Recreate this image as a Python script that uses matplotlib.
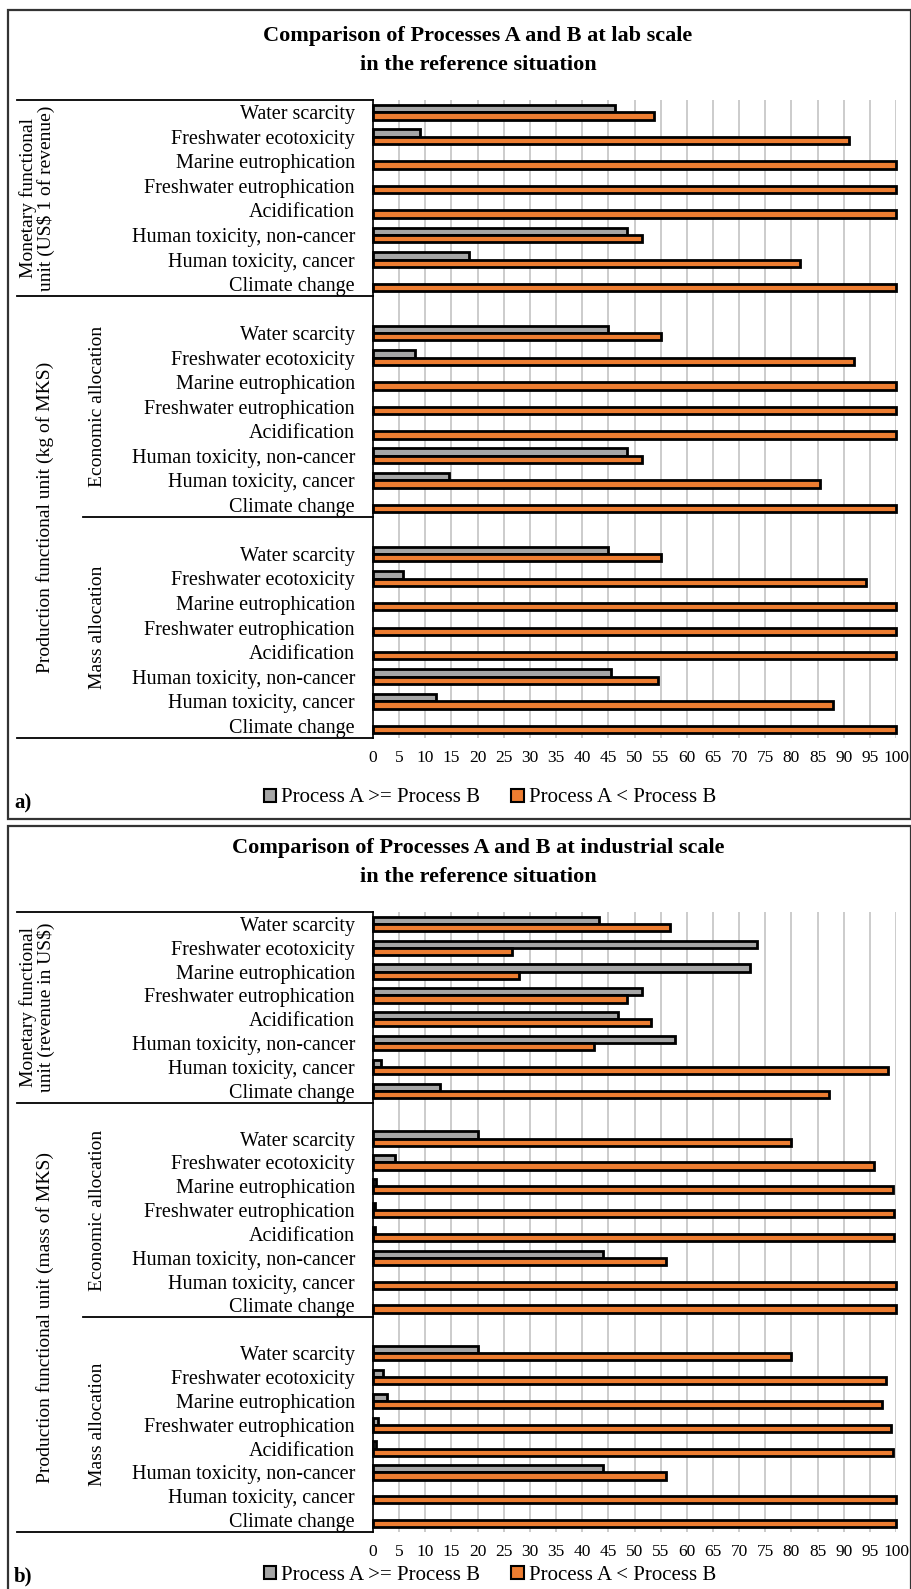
import numpy as np
import matplotlib.pyplot as plt
from matplotlib.patches import Patch, Rectangle
from matplotlib.transforms import blended_transform_factory

plt.rcParams['font.family'] = ['Liberation Serif', 'DejaVu Serif']

# categories (top to bottom within each group)
categories = ["Water scarcity", "Freshwater ecotoxicity", "Marine eutrophication",
              "Freshwater eutrophication", "Acidification", "Human toxicity, non-cancer",
              "Human toxicity, cancer", "Climate change"]
ticks = list(range(0, 101, 5))

# a) lab scale
a_mon_ge = [46.2, 9.0, 0, 0, 0, 48.6, 18.4, 0]
a_mon_lt = [53.8, 91.0, 100, 100, 100, 51.4, 81.6, 100]
a_eco_ge = [45.0, 8.0, 0, 0, 0, 48.5, 14.5, 0]
a_eco_lt = [55.0, 92.0, 100, 100, 100, 51.5, 85.5, 100]
a_mass_ge = [45.0, 5.8, 0, 0, 0, 45.5, 12.0, 0]
a_mass_lt = [55.0, 94.2, 100, 100, 100, 54.5, 88.0, 100]

# b) industrial scale
b_mon_ge = [43.3, 73.5, 72.1, 51.5, 46.8, 57.8, 1.5, 12.8]
b_mon_lt = [56.7, 26.5, 27.9, 48.5, 53.2, 42.2, 98.5, 87.2]
b_eco_ge = [20.1, 4.2, 0.6, 0.3, 0.4, 44.0, 0, 0]
b_eco_lt = [79.9, 95.8, 99.4, 99.7, 99.6, 56.0, 100, 100]
b_mass_ge = [20.1, 1.9, 2.6, 1.0, 0.5, 44.0, 0, 0]
b_mass_lt = [79.9, 98.1, 97.4, 99.0, 99.5, 56.0, 100, 100]

GRAY = '#a5a5a5'
ORANGE = '#ed7d31'
W, H = 912, 1589

fig = plt.figure(figsize=(W / 100, H / 100), dpi=100)


def fx(px):
    return px / W


def fy(py):
    return 1 - py / H


def panel(top, bottom, ge_groups, lt_groups, mon_label, prod_label, title, tag,
          leg_y, tag_y):
    ax = fig.add_axes([fx(373), fy(bottom), fx(896) - fx(373), (bottom - top) / H])
    bases = [0, 9, 18]
    ylabels_pos = []
    for base, ge, lt in zip(bases, ge_groups, lt_groups):
        y = base + np.arange(len(categories))
        ge = np.array(ge)
        lt = np.array(lt)
        m = ge > 0
        ax.barh(y[m] - 0.15, ge[m], height=0.3, color=GRAY, edgecolor='black',
                linewidth=2.0, clip_on=False, zorder=3)
        m = lt > 0
        ax.barh(y[m] + 0.15, lt[m], height=0.3, color=ORANGE, edgecolor='black',
                linewidth=2.0, clip_on=False, zorder=3)
        ylabels_pos += list(y)
    ax.set_ylim(25.5, -0.5)
    ax.set_xlim(0, 100)
    ax.set_yticks(ylabels_pos)
    ax.set_yticklabels(categories * 3)
    ax.set_xticks(ticks)
    ax.tick_params(axis='y', length=0, pad=13, labelsize=14.5)
    ax.tick_params(axis='x', length=0, pad=9, labelsize=12.5)
    ax.grid(axis='x', color='#c8c8c8', linewidth=1.3)
    ax.set_axisbelow(True)
    for s in ['top', 'right', 'bottom']:
        ax.spines[s].set_visible(False)
    ax.spines['left'].set_linewidth(1.2)

    tr = blended_transform_factory(fig.transFigure, ax.transData)
    for yy, x0 in [(-0.5, 17), (7.5, 17), (16.5, 83), (25.5, 17)]:
        ax.plot([fx(x0), fx(373)], [yy, yy], transform=tr, color='black',
                linewidth=1.3, clip_on=False)
    ax.text(fx(37), 3.5, mon_label, transform=tr, rotation=90, ha='center',
            va='center', fontsize=14, linespacing=1.0, multialignment='center')
    ax.text(fx(45), 16.5, prod_label, transform=tr, rotation=90, ha='center',
            va='center', fontsize=14)
    ax.text(fx(98), 12, 'Economic allocation', transform=tr, rotation=90,
            ha='center', va='center', fontsize=14)
    ax.text(fx(98), 21, 'Mass allocation', transform=tr, rotation=90,
            ha='center', va='center', fontsize=14)

    fig.text(fx(478), fy(top - 64), title[0], ha='center', va='center',
             fontsize=16, fontweight='bold')
    fig.text(fx(478), fy(top - 35), title[1], ha='center', va='center',
             fontsize=16, fontweight='bold')

    handles = [Patch(facecolor=GRAY, edgecolor='black', linewidth=1.5,
                     label='Process A >= Process B'),
               Patch(facecolor=ORANGE, edgecolor='black', linewidth=1.5,
                     label='Process A < Process B')]
    fig.legend(handles=handles, loc='center', bbox_to_anchor=(fx(490), fy(leg_y)),
               ncol=2, frameon=False, fontsize=15, handlelength=0.6,
               handleheight=0.6, handletextpad=0.25, columnspacing=1.5)
    fig.text(fx(14), fy(tag_y), tag, ha='left', va='center', fontsize=15,
             fontweight='bold')


panel(100, 738, [a_mon_ge, a_eco_ge, a_mass_ge], [a_mon_lt, a_eco_lt, a_mass_lt],
      'Monetary functional\nunit (US$ 1 of revenue)',
      'Production functional unit (kg of MKS)',
      ['Comparison of Processes A and B at lab scale', 'in the reference situation'],
      'a)', 798, 803)

panel(912, 1532, [b_mon_ge, b_eco_ge, b_mass_ge], [b_mon_lt, b_eco_lt, b_mass_lt],
      'Monetary functional\nunit (revenue in US$)',
      'Production functional unit (mass of MKS)',
      ['Comparison of Processes A and B at industrial scale', 'in the reference situation'],
      'b)', 1575, 1576)

# panel frames
fig.patches.append(Rectangle((fx(8), fy(819)), fx(911) - fx(8), (819 - 10) / H,
                             transform=fig.transFigure, fill=False,
                             edgecolor='#333333', linewidth=1.6))
fig.patches.append(Rectangle((fx(8), fy(1600)), fx(911) - fx(8), (1600 - 826) / H,
                             transform=fig.transFigure, fill=False,
                             edgecolor='#333333', linewidth=1.6))

fig.savefig('out.png', dpi=100)
